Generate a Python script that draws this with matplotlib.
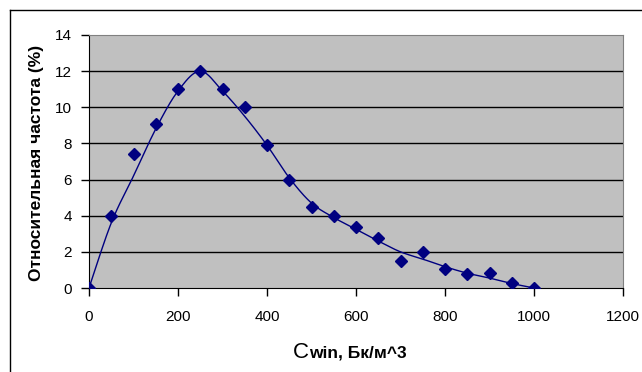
import numpy as np
import matplotlib.pyplot as plt
from matplotlib.lines import Line2D

plt.rcParams['font.family'] = ['Liberation Sans', 'DejaVu Sans']

# measured points
x_pts = [0, 50, 100, 150, 200, 250, 300, 350, 400, 450, 500,
         550, 600, 650, 700, 750, 800, 850, 900, 950, 1000]
y_pts = [0, 4.0, 7.4, 9.1, 11.0, 12.0, 11.0, 10.0, 7.9, 6.0, 4.5,
         4.0, 3.4, 2.75, 1.5, 2.0, 1.05, 0.8, 0.85, 0.25, 0]

# smoothed curve
x_fit = [0, 50, 100, 150, 200, 250, 300, 350, 400, 450, 500,
         550, 600, 650, 700, 750, 800, 850, 900, 950, 1000]
y_fit = [0, 3.6, 6.2, 8.8, 10.9, 12.0, 10.9, 9.5, 7.9, 6.1, 4.7,
         3.9, 3.25, 2.6, 2.0, 1.6, 1.18, 0.82, 0.55, 0.25, 0]

x_ticks = [0, 200, 400, 600, 800, 1000, 1200]
y_ticks = [0, 2, 4, 6, 8, 10, 12, 14]


def catmull_rom(xs, ys, n=20):
    # Excel-style smoothing between the read values
    p = np.column_stack([xs, ys]).astype(float)
    p = np.vstack([p[0], p, p[-1]])
    out = []
    t = np.linspace(0, 1, n, endpoint=False)[:, None]
    for i in range(1, len(p) - 2):
        p0, p1, p2, p3 = p[i - 1], p[i], p[i + 1], p[i + 2]
        seg = 0.5 * (2 * p1 + (-p0 + p2) * t + (2 * p0 - 5 * p1 + 4 * p2 - p3) * t ** 2
                     + (-p0 + 3 * p1 - 3 * p2 + p3) * t ** 3)
        out.append(seg)
    out.append(p[-2][None, :])
    out = np.vstack(out)
    return out[:, 0], out[:, 1]


W, H = 642, 372
fig = plt.figure(figsize=(W / 100, H / 100), dpi=100)
ax = fig.add_axes([89 / W, 84 / H, 534 / W, 253 / H])
ax.set_facecolor('#c0c0c0')

# figure frame
fig.add_artist(Line2D([10 / W, 10 / W], [0, 1 - 10 / H], color='black', lw=1,
                      transform=fig.transFigure))
fig.add_artist(Line2D([10 / W, 1], [1 - 10 / H, 1 - 10 / H], color='black', lw=1,
                      transform=fig.transFigure))

for yv in y_ticks[1:-1]:
    ax.axhline(yv, color='black', lw=1, zorder=1)

cx, cy = catmull_rom(x_fit, y_fit)
ax.plot(cx, cy, color='#000080', lw=1, zorder=2)
ax.plot(x_pts, y_pts, linestyle='none', marker='D', ms=6.5, color='#000080', zorder=3)

ax.set_xlim(0, 1200)
ax.set_ylim(0, 14)
ax.set_xticks(x_ticks)
ax.set_yticks(y_ticks)
ax.tick_params(axis='both', labelsize=11, length=5.5, width=1, direction='out', color='black')
ax.tick_params(axis='x', pad=10)
ax.tick_params(axis='y', pad=7)

ax.spines['left'].set_color('black')
ax.spines['bottom'].set_color('black')
ax.spines['top'].set_color('#808080')
ax.spines['right'].set_color('#808080')

fig.text(37 / W, 1 - 163 / H, 'Относительная частота (%)', fontsize=12.5, fontweight='bold',
         rotation=90, ha='center', va='center')

# x axis title: big "C" followed by bold subscript-like text
c_txt = fig.text(293 / W, 1 - 358 / H, 'C', fontsize=16, ha='left', va='baseline')
fig.canvas.draw()
bb = c_txt.get_window_extent(fig.canvas.get_renderer())
fig.text(bb.x1 / W, 1 - 358 / H, 'win, Бк/м^3', fontsize=12.5, fontweight='bold',
         ha='left', va='baseline')

fig.savefig('out.png', dpi=100)
